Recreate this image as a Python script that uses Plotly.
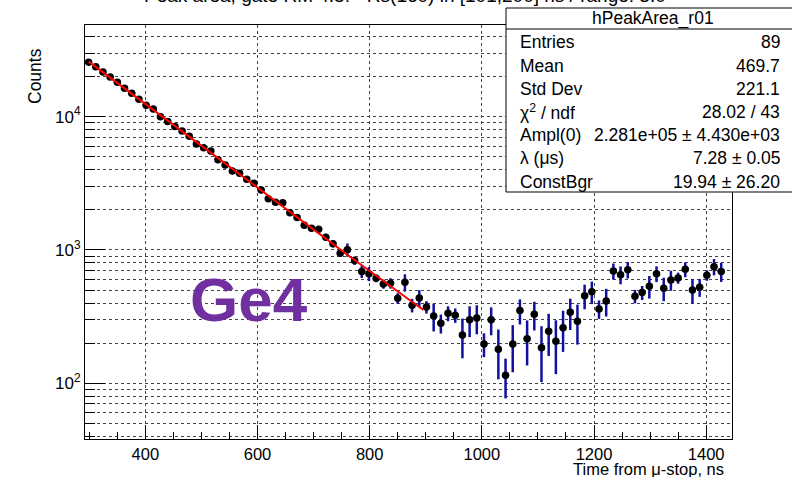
import numpy as np
import plotly.graph_objects as go

# ---- histogram hPeakArea_r01 : 90 bins, last one empty ----
x_lo, x_hi, n_bins = 292.5, 1446.0, 90
bin_w = (x_hi - x_lo) / n_bins

counts = [
    25600, 23700, 21600, 19800, 18100, 16300, 15000, 13500, 12200, 11400,
    10000, 9180, 8420, 7810, 7130, 6240, 5850, 5530, 4760, 4340,
    3920, 3760, 3390, 3160, 2820, 2420, 2280, 2260, 1900, 1750,
    1530, 1455, 1430, 1245, 1115, 944, 1005, 832, 688, 664,
    613, 556, 563, 434, 572, 385, 436, 373, 320, 282,
    335, 324, 230, 300, 309, 197, 300, 180, 115, 197,
    351, 216, 329, 185, 246, 207, 261, 341, 292, 454,
    486, 361, 414, 695, 653, 711, 450, 479, 535, 664,
    516, 596, 617, 716, 501, 525, 646, 750, 688,
]
errors = [
    600, 560, 520, 480, 450, 420, 390, 360, 330, 310,
    290, 270, 250, 240, 225, 205, 195, 185, 170, 160,
    150, 145, 135, 130, 120, 110, 105, 105, 95, 90,
    85, 82, 80, 75, 70, 55, 115, 60, 72, 80,
    40, 44, 50, 40, 85, 45, 63, 40, 75, 46,
    43, 40, 76, 78, 76, 40, 71, 73, 38, 76,
    75, 80, 80, 83, 86, 90, 89, 90, 97, 95,
    93, 57, 97, 96, 100, 100, 52, 58, 103, 90,
    103, 102, 59, 91, 105, 80, 59, 105, 112,
]
centers = [x_lo + bin_w * (i + 0.5) for i in range(len(counts))]

# ---- fit result: Ampl(0)*exp(-lambda*t) + ConstBgr ----
fit_ampl = 2.281e5
fit_lambda_us = 7.28
fit_const = 19.94
fit_range = (299.0, 896.0)

stats_rows = [
    ("Entries", "89"),
    ("Mean", "469.7"),
    ("Std Dev", "221.1"),
    ("\u03c7<sup>2</sup> / ndf", "28.02 / 43"),
    ("Ampl(0)", "2.281e+05 \u00b1 4.430e+03"),
    ("\u03bb (\u03bcs)", "7.28 \u00b1 0.05"),
    ("ConstBgr", "19.94 \u00b1 26.20"),
]

y_lo, y_hi = 38.2, 48700.0
x_major = [400, 600, 800, 1000, 1200, 1400]
y_major = [100, 1000, 10000]
y_major_text = ["10<sup>2</sup>", "10<sup>3</sup>", "10<sup>4</sup>"]
y_minor = [m * 10 ** d for d in range(1, 5) for m in range(1, 10) if y_lo <= m * 10 ** d <= y_hi]

FONT = "Liberation Sans, Arial, Helvetica, sans-serif"
W, H = 792, 477
L, R, T, B = 85, 732, 25, 439


def px_x(p):
    return (p - L) / (R - L)


def px_y(p):
    return (B - p) / (B - T)


fig = go.Figure()

fig.add_trace(go.Scatter(
    x=centers, y=counts, mode="markers",
    marker=dict(symbol="circle", size=7.5, color="black"),
    error_y=dict(type="data", array=errors, color="#0f0fa0", thickness=2.5, width=0),
    error_x=dict(type="constant", value=bin_w / 2, color="#0f0fa0", thickness=1, width=0),
    showlegend=False, hoverinfo="skip",
))

t_fit = np.linspace(fit_range[0], fit_range[1], 300)
y_fit = fit_ampl * np.exp(-fit_lambda_us * t_fit / 1000.0) + fit_const
fig.add_trace(go.Scatter(
    x=t_fit, y=y_fit, mode="lines",
    line=dict(color="#ff0000", width=2),
    showlegend=False, hoverinfo="skip",
))

fig.update_xaxes(
    range=[x_lo, x_hi], showline=True, linecolor="black", linewidth=1, mirror=True,
    tickmode="array", tickvals=x_major, ticks="inside", ticklen=14, tickcolor="black",
    tickfont=dict(family=FONT, size=16.5, color="black"),
    showgrid=True, gridcolor="#444", griddash="dot", gridwidth=1,
    minor=dict(dtick=50, tick0=0, ticks="inside", ticklen=7, tickcolor="black", showgrid=False),
    zeroline=False,
)
fig.update_yaxes(
    type="log", range=[np.log10(y_lo), np.log10(y_hi)],
    showline=True, linecolor="black", linewidth=1, mirror=True,
    tickmode="array", tickvals=y_major, ticktext=y_major_text,
    ticks="inside", ticklen=20, tickcolor="black",
    tickfont=dict(family=FONT, size=17, color="black"),
    showgrid=True, gridcolor="#444", griddash="dot", gridwidth=1,
    minor=dict(tickmode="array", tickvals=y_minor, ticks="inside", ticklen=10,
               tickcolor="black", showgrid=True, gridcolor="#444", griddash="dot", gridwidth=1),
    zeroline=False,
)

shapes = [
    dict(type="rect", xref="paper", yref="paper",
         x0=px_x(506), x1=px_x(805), y0=px_y(192), y1=px_y(8),
         fillcolor="white", line=dict(color="black", width=1), layer="above"),
    dict(type="line", xref="paper", yref="paper",
         x0=px_x(506), x1=px_x(805), y0=px_y(29), y1=px_y(29),
         line=dict(color="black", width=1), layer="above"),
]

annotations = [
    dict(text="Peak area, gate RM 4.5: - Rs(160) in [101,200] ns / range: 3.0",
         xref="paper", yref="paper", x=px_x(405), y=px_y(8),
         xanchor="center", yanchor="bottom", showarrow=False,
         font=dict(family=FONT, size=19, color="black")),
    dict(text="hPeakArea_r01", xref="paper", yref="paper",
         x=px_x(653), y=px_y(18.5), xanchor="center", yanchor="middle",
         showarrow=False, font=dict(family=FONT, size=17.5, color="black")),
    dict(text="Time from \u03bc-stop, ns", xref="paper", yref="paper",
         x=px_x(726), y=px_y(469), xanchor="right", yanchor="middle",
         showarrow=False, font=dict(family=FONT, size=16.5, color="black")),
    dict(text="Counts", xref="paper", yref="paper", textangle=-90,
         x=px_x(35), y=px_y(46), xanchor="center", yanchor="top",
         showarrow=False, font=dict(family=FONT, size=17.5, color="black")),
    dict(text="<b>Ge4</b>", xref="paper", yref="paper",
         x=px_x(249), y=px_y(299), xanchor="center", yanchor="middle",
         showarrow=False, font=dict(family=FONT, size=62, color="#7030a0")),
]

row_y = [42.3, 65.5, 88.7, 112.0, 135.2, 158.4, 181.6]
for (lab, val), yy in zip(stats_rows, row_y):
    annotations.append(dict(text=lab, xref="paper", yref="paper",
                            x=px_x(518), y=px_y(yy), xanchor="left", yanchor="middle",
                            showarrow=False, font=dict(family=FONT, size=17.5, color="black")))
    annotations.append(dict(text=val, xref="paper", yref="paper",
                            x=px_x(782), y=px_y(yy), xanchor="right", yanchor="middle",
                            showarrow=False, font=dict(family=FONT, size=17.5, color="black")))

fig.update_layout(
    width=W, height=H,
    margin=dict(l=L, r=W - R, t=T, b=H - B, pad=0),
    paper_bgcolor="white", plot_bgcolor="white",
    shapes=shapes, annotations=annotations,
    showlegend=False,
)

fig.write_html("out.html")
